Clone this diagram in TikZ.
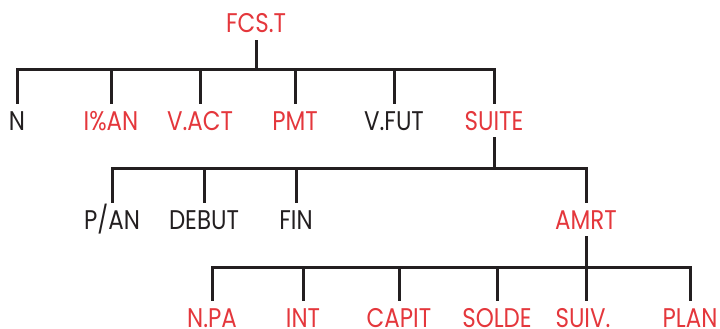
\documentclass[tikz,border=0pt]{standalone}
\usepackage{fontspec}
\setmainfont{Poppins}[FakeStretch=0.85]
\definecolor{hpred}{RGB}{228,55,60}
\definecolor{hpblack}{RGB}{35,31,32}
\begin{document}
\begin{tikzpicture}[x=1pt,y=-1pt,
  lbl/.style={anchor=base, font=\fontsize{27}{30}\selectfont, text height=19pt, text depth=0pt, inner xsep=0pt, inner ysep=7pt},
  keyred/.style={lbl, text=hpred},
  keyblk/.style={lbl, text=hpblack},
  leafred/.style={keyred, text height=26pt, inner ysep=0pt},
  conn/.style={draw=hpblack, line width=3pt, line join=miter}]
\useasboundingbox (0,0) rectangle (720,329);
% level 0
\node[keyred] (fcs) at (256,33) {FCS.T};
% level 1
\node[keyblk] (n) at (17,130) {N};
\node[keyred] (ian) at (111,130) {I\%AN};
\node[keyred] (vact) at (200,130) {V.ACT};
\node[keyred] (pmt) at (295,130) {PMT};
\node[keyblk] (vfut) at (394,130) {V.FUT};
\node[keyred] (suite) at (494,130) {SUITE};
% level 2
\node[keyblk] (pan) at (112,229) {P/AN};
\node[keyblk] (debut) at (204,229) {DEBUT};
\node[keyblk] (fin) at (296,229) {FIN};
\node[keyred] (amrt) at (586,229) {AMRT};
% level 3
\node[leafred] (npa) at (212,327) {N.PA};
\node[leafred] (int) at (303,327) {INT};
\node[leafred] (capit) at (399,327) {CAPIT};
\node[leafred] (solde) at (497,327) {SOLDE};
\node[leafred] (suiv) at (583,327) {SUIV.};
\node[leafred] (plan) at (690,327) {PLAN};
% bars
\coordinate (b1) at (0,70);
\coordinate (b2) at (0,168);
\coordinate (b3) at (0,267);
\draw[conn] (fcs.south) -- (fcs.south |- b1);
\draw[conn] (n.north) -- (n.north |- b1) -- (suite.north |- b1) -- (suite.north);
\foreach \c in {ian,vact,pmt,vfut} \draw[conn] (\c.north) -- (\c.north |- b1);
\draw[conn] (suite.south) -- (suite.south |- b2);
\draw[conn] (pan.north) -- (pan.north |- b2) -- (amrt.north |- b2) -- (amrt.north);
\foreach \c in {debut,fin} \draw[conn] (\c.north) -- (\c.north |- b2);
\draw[conn] (npa.north) -- (npa.north |- b3) -- (plan.north |- b3) -- (plan.north);
\foreach \c in {int,capit,solde} \draw[conn] (\c.north) -- (\c.north |- b3);
\draw[conn] (amrt.south) -- (amrt.south |- suiv.north);
\end{tikzpicture}
\end{document}
